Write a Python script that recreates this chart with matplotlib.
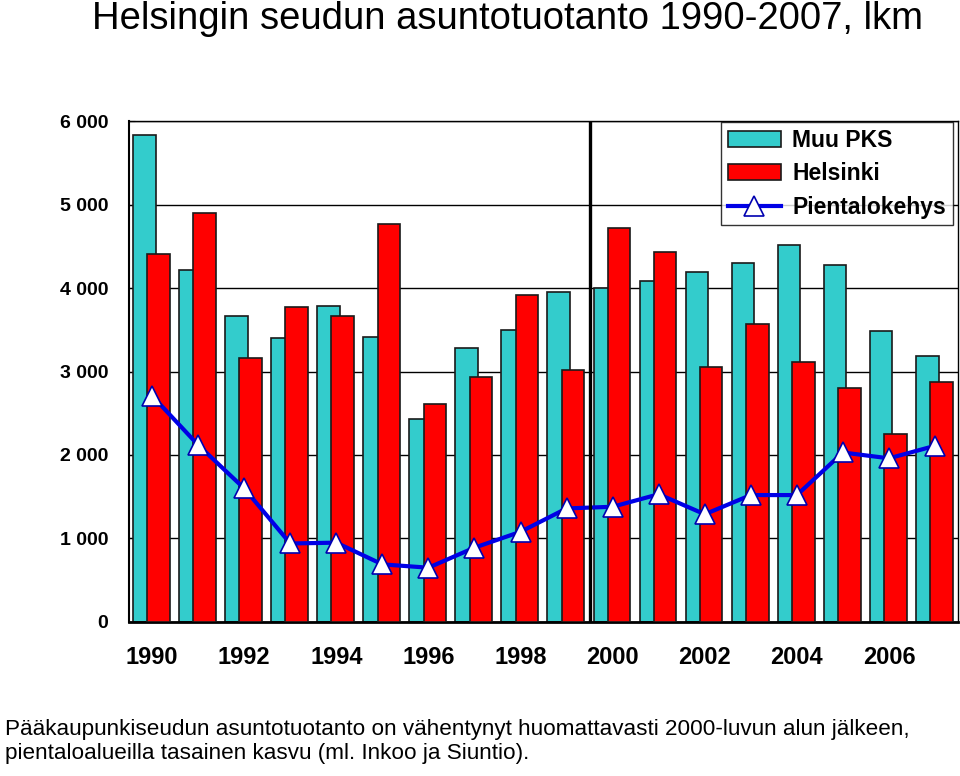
import numpy as np
import matplotlib
matplotlib.use('Agg')
import matplotlib.pyplot as plt
from matplotlib.ticker import FuncFormatter

# data
years = list(range(1990, 2008))
muu_pks = [5830, 4210, 3670, 3400, 3780, 3410, 2430, 3280, 3500, 3950,
           4000, 4090, 4190, 4300, 4510, 4280, 3490, 3190]
helsinki = [4410, 4900, 3160, 3770, 3670, 4770, 2610, 2930, 3920, 3020,
            4720, 4430, 3060, 3570, 3110, 2800, 2250, 2880]
pientalo = [2710, 2120, 1600, 940, 950, 690, 650, 890, 1080, 1360,
            1380, 1530, 1290, 1520, 1520, 2030, 1960, 2110]
tick_years = [1990, 1992, 1994, 1996, 1998, 2000, 2002, 2004, 2006]

plt.rcParams['font.family'] = ['Liberation Sans', 'DejaVu Sans']

fig = plt.figure(figsize=(9.6, 7.76), dpi=100)
ax = fig.add_axes([0.1344, 0.1985, 0.8636, 0.6455])

x = np.arange(len(years))
w = 0.49
b1 = ax.bar(x - 0.17, muu_pks, w, color='#33CCCC', edgecolor='#1a1a1a', linewidth=1.2,
            label='Muu PKS', zorder=2)
b2 = ax.bar(x + 0.14, helsinki, w, color='#FF0000', edgecolor='#1a1a1a', linewidth=1.2,
            label='Helsinki', zorder=3)
l1, = ax.plot(x, pientalo, color='#0000E6', linewidth=3, marker='^', markersize=14,
              markerfacecolor='white', markeredgecolor='#0000B0', markeredgewidth=1.2,
              label='Pientalokehys', zorder=4)

# break between 1999 and 2000
ax.plot([9.5, 9.5], [0, 6000], color='black', linewidth=2.4, zorder=5)

ax.set_xlim(-0.5, len(years) - 0.5)
ax.set_ylim(0, 6000)
ax.set_yticks(range(0, 6001, 1000))
ax.yaxis.set_major_formatter(FuncFormatter(lambda v, p: f'{int(v):,}'.replace(',', ' ')))
ax.grid(axis='y', color='black', linewidth=1.0, zorder=0)
ax.set_axisbelow(True)

ax.set_xticks([years.index(t) for t in tick_years])
ax.set_xticklabels([str(t) for t in tick_years], fontsize=17, fontweight='bold')
ax.tick_params(axis='x', length=0, pad=17)
ax.tick_params(axis='y', labelsize=14, length=4, direction='in', pad=15)
for lab in ax.get_yticklabels():
    lab.set_fontweight('bold')

for s in ax.spines.values():
    s.set_color('black')
    s.set_linewidth(1.0)
ax.spines['bottom'].set_linewidth(2)
ax.spines['left'].set_linewidth(1.5)

leg = ax.legend([b1, b2, l1], ['Muu PKS', 'Helsinki', 'Pientalokehys'],
                loc='upper right', bbox_to_anchor=(0.9935, 0.998),
                prop={'weight': 'bold', 'size': 16.5}, frameon=True, fancybox=False,
                edgecolor='black', borderpad=0.3, labelspacing=0.45,
                handlelength=2.3, handletextpad=0.5, borderaxespad=0)
leg.get_frame().set_linewidth(1.0)

fig.text(0.096, 0.975, 'Helsingin seudun asuntotuotanto 1990-2007, lkm',
         fontsize=27.5, ha='left', va='center')

fig.text(0.005, 0.073,
         'Pääkaupunkiseudun asuntotuotanto on vähentynyt huomattavasti 2000-luvun alun jälkeen,\n'
         'pientaloalueilla tasainen kasvu (ml. Inkoo ja Siuntio).',
         fontsize=16.2, ha='left', va='top', linespacing=1.15)

fig.savefig('out.png', dpi=100)
